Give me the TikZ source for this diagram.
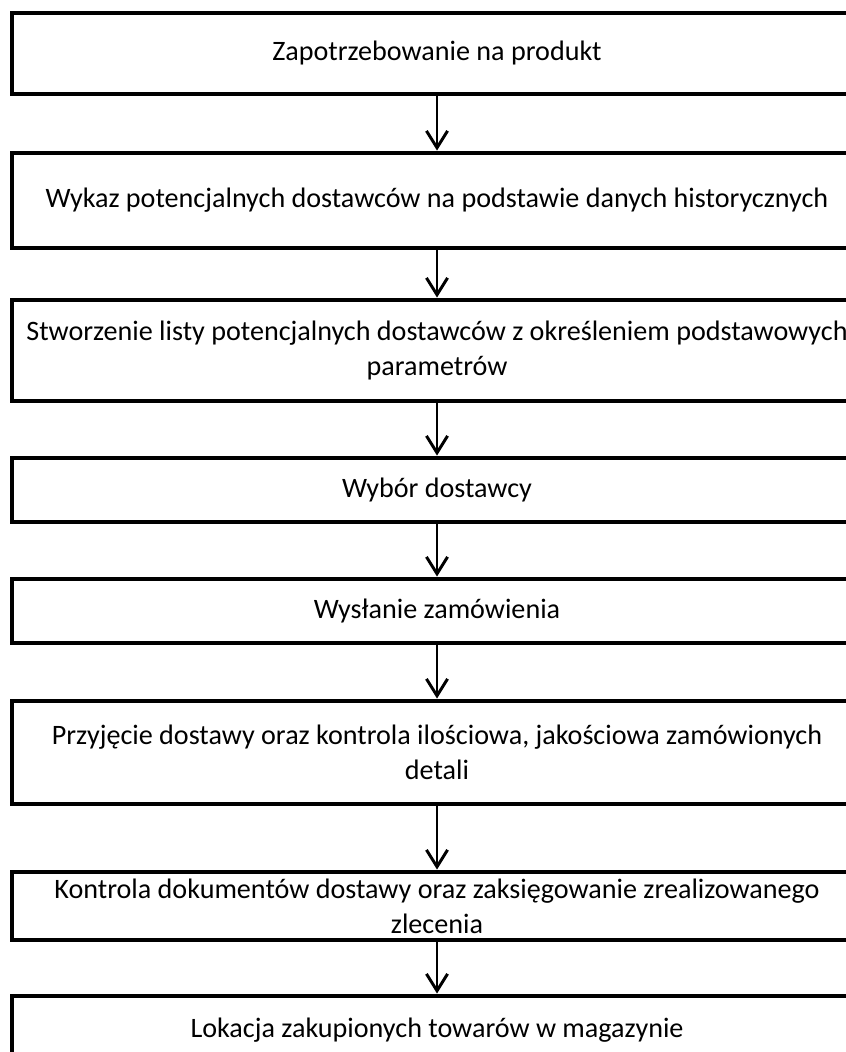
\documentclass[tikz,border=0pt]{standalone}
\usepackage{fontspec}
\setmainfont{Carlito}
\usetikzlibrary{arrows.meta}

\begin{document}
\begin{tikzpicture}[x=0.025cm, y=-0.025cm,
  stepbox/.style={draw, line width=3.5pt, rectangle, align=center,
    minimum width=850*0.025cm, inner sep=0pt,
    font=\fontsize{20}{25}\selectfont},
  flow/.style={line width=2.1pt, -{Straight Barb[length=12pt, width=15pt, line width=2.1pt]}}]
\useasboundingbox (0,0) rectangle (846,1052);
\clip (0,0) rectangle (846,1052);

\node[stepbox, minimum height=81*0.025cm]  (s1) at (437,53.5)  {Zapotrzebowanie na produkt};
\node[stepbox, minimum height=95*0.025cm]  (s2) at (437,200.5) {Wykaz potencjalnych dostawców na podstawie danych historycznych};
\node[stepbox, minimum height=101*0.025cm] (s3) at (437,350.5) {Stworzenie listy potencjalnych dostawców z określeniem podstawowych\\ parametrów};
\node[stepbox, minimum height=64*0.025cm]  (s4) at (437,490)   {Wybór dostawcy};
\node[stepbox, minimum height=64*0.025cm]  (s5) at (437,611)   {Wysłanie zamówienia};
\node[stepbox, minimum height=103*0.025cm] (s6) at (437,752.5) {Przyjęcie dostawy oraz kontrola ilościowa, jakościowa zamówionych\\ detali};
\node[stepbox, minimum height=68*0.025cm]  (s7) at (437,906)   {Kontrola dokumentów dostawy oraz zaksięgowanie zrealizowanego\\ zlecenia};
\node[stepbox, minimum height=68*0.025cm]  (s8) at (437,1030)  {Lokacja zakupionych towarów w magazynie};

% arrows between steps
\foreach \a/\b in {s1/s2, s2/s3, s3/s4, s4/s5, s5/s6, s6/s7, s7/s8}
  \draw[flow] (\a) -- (\b);
\end{tikzpicture}
\end{document}
